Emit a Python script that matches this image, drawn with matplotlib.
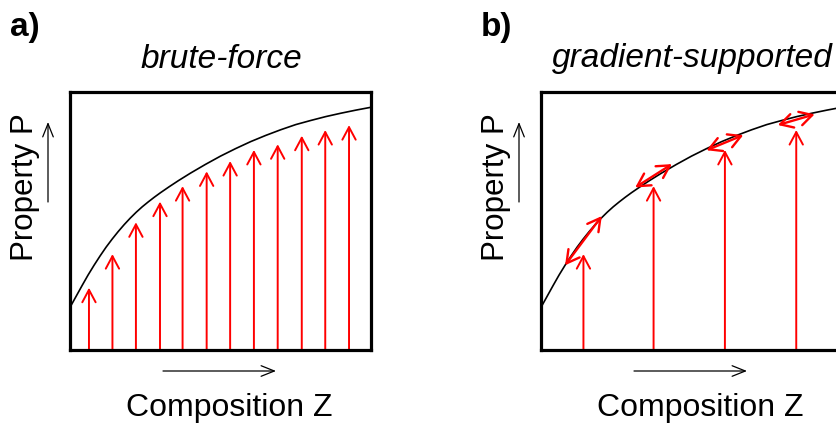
import matplotlib.pyplot as plt
from matplotlib.patches import FancyArrowPatch

plt.rcParams['font.family'] = ['Liberation Sans', 'DejaVu Sans']

# Property curve P(Z)
curve_z = [0.0, 0.02, 0.04, 0.06, 0.08, 0.10, 0.12, 0.14, 0.16, 0.18, 0.20,
           0.22, 0.24, 0.26, 0.28, 0.30, 0.33, 0.36, 0.40, 0.45, 0.50, 0.55,
           0.60, 0.65, 0.70, 0.75, 0.80, 0.85, 0.90, 0.95, 1.00]
curve_p = [0.165, 0.207, 0.249, 0.290, 0.328, 0.364, 0.398, 0.429, 0.458, 0.485, 0.510,
           0.533, 0.554, 0.573, 0.591, 0.608, 0.632, 0.655, 0.684, 0.718, 0.750, 0.779,
           0.806, 0.830, 0.852, 0.872, 0.888, 0.903, 0.916, 0.928, 0.939]

# brute-force sampling: evenly spaced compositions and the measured property
sample_z = [0.063, 0.141, 0.219, 0.299, 0.374, 0.454, 0.532, 0.611, 0.690, 0.770, 0.848, 0.927]
sample_p = [0.241, 0.371, 0.494, 0.574, 0.634, 0.691, 0.731, 0.774, 0.796, 0.829, 0.851, 0.870]

# gradient-supported sampling: every third composition, plus the local gradient
grad_idx = [1, 4, 7, 10]
grad_p = [0.423, 0.674, 0.802, 0.891]
grad_slope = [1.56, 0.74, 0.48, 0.34]
grad_half = 0.061

W, H = 836, 428
fig = plt.figure(figsize=(W / 100, H / 100), dpi=100)


def fx(px):
    return px / W


def fy(py):
    return 1 - py / H


def arrow(ax, a, b, style='->', color='red', lw=1.4, hl=0.9, hw=0.48, **kw):
    ax.add_patch(FancyArrowPatch(a, b, arrowstyle=f'{style},head_length={hl},head_width={hw}',
                                 mutation_scale=10, color=color, lw=lw,
                                 shrinkA=0, shrinkB=0, **kw))


def fig_arrow(a, b):
    p = FancyArrowPatch((fx(a[0]), fy(a[1])), (fx(b[0]), fy(b[1])),
                        arrowstyle='->,head_length=0.95,head_width=0.38',
                        mutation_scale=10, color='black', lw=0.9,
                        shrinkA=0, shrinkB=0, transform=fig.transFigure)
    fig.patches.append(p)


def panel(left_px, letter, title):
    ax = fig.add_axes([fx(left_px), fy(350), 301 / W, 258.5 / H])
    ax.set_xlim(0, 1)
    ax.set_ylim(0, 1)
    ax.set_xticks([])
    ax.set_yticks([])
    for s in ax.spines.values():
        s.set_linewidth(2.3)
    ax.plot(curve_z, curve_p, color='black', lw=1.2, zorder=3)

    fig.text(fx(left_px - 60), fy(12), letter, fontsize=24, fontweight='bold',
             ha='left', va='top')
    fig.text(fx(left_px + 151), fy(67.5), title, fontsize=24, style='italic',
             ha='center', va='baseline')
    fig.text(fx(left_px - 37), fy(187.5), 'Property P', fontsize=22.5, rotation=90,
             rotation_mode='anchor', ha='center', va='baseline')
    fig.text(fx(left_px + 159), fy(416), 'Composition Z', fontsize=23,
             ha='center', va='baseline')
    fig_arrow((left_px - 22, 202), (left_px - 22, 122))
    fig_arrow((left_px + 93, 371), (left_px + 206, 371))
    return ax


ax_a = panel(70, 'a)', 'brute-force')
for z, p in zip(sample_z, sample_p):
    arrow(ax_a, (z, 0), (z, p))

ax_b = panel(541, 'b)', 'gradient-supported')
for i, pc, k in zip(grad_idx, grad_p, grad_slope):
    z = sample_z[i]
    arrow(ax_b, (z, 0), (z, sample_p[i]))
    arrow(ax_b, (z - grad_half, pc - k * grad_half), (z + grad_half, pc + k * grad_half),
          style='<->', lw=1.7, hl=0.9, hw=0.5, zorder=4)

fig.savefig('out.png', dpi=100)
